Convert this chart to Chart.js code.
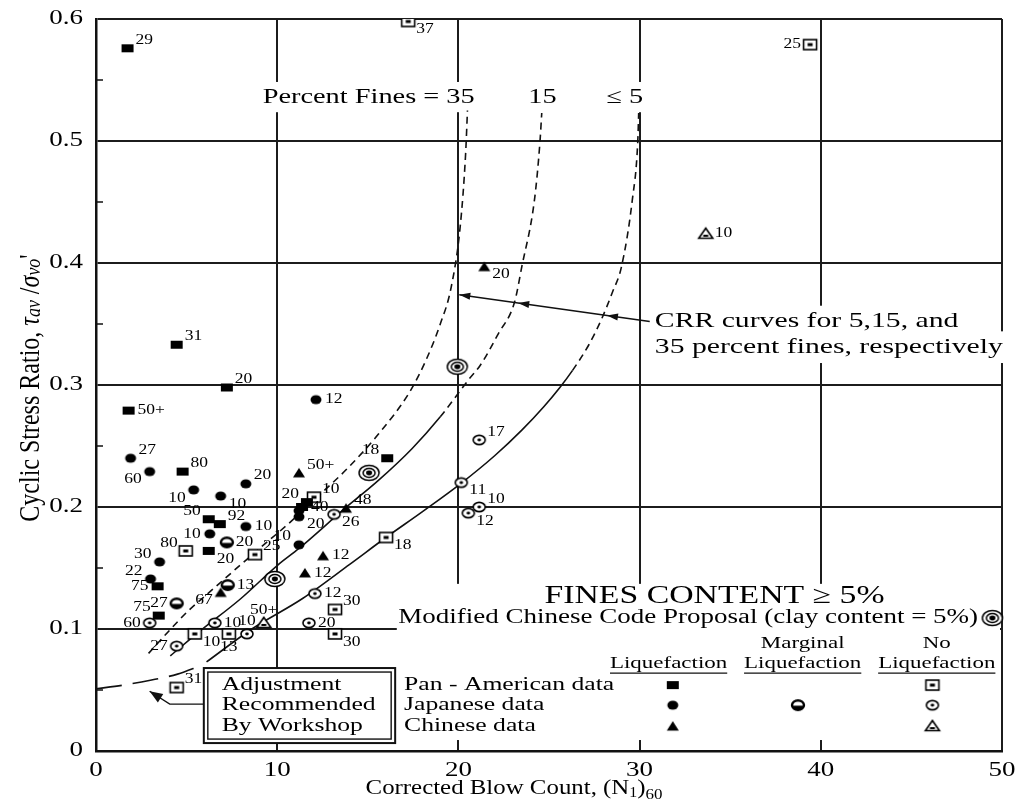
<!DOCTYPE html>
<html>
<head>
<meta charset="utf-8">
<script src="https://cdn.jsdelivr.net/npm/chart.js@4.4.1/dist/chart.umd.min.js"></script>
<style>
  html, body { margin: 0; padding: 0; background: #fff; }
  canvas { display: block; }
</style>
</head>
<body>
<canvas id="csrChart" width="1021" height="802"></canvas>
<script>
// axis ticks
const xTicks = [0, 10, 20, 30, 40, 50];
const xTickLabels = ['0', '10', '20', '30', '40', '50'];
const yTicks = [0, 0.1, 0.2, 0.3, 0.4, 0.5, 0.6];
const yTickLabels = ['0', '0.1', '0.2', '0.3', '0.4', '0.5', '0.6'];

// Pan-American data, liquefaction
const panLiqN = [1.74, 4.45, 7.22, 1.80, 4.78, 6.22, 6.83, 6.22, 3.40, 3.46, 16.07, 11.64, 11.37];
const panLiqCSR = [0.576, 0.333, 0.298, 0.279, 0.229, 0.190, 0.186, 0.164, 0.135, 0.111, 0.240, 0.204, 0.200];
const panLiqLabels = ['29', '31', '20', '50+', '80', '50', '92', '20', '75', '75', '18', '20', '40'];
const panLiqPos = ['ru', 'ru', 'ru', 'r', 'ru', 'lu', 'ru', 'rd', 'l', 'lu', 'lu', 'lu', 'r'];

// Pan-American data, no liquefaction
const panNoN = [17.23, 39.41, 4.95, 8.77, 16.01, 13.19, 13.19, 4.45, 12.03, 5.45, 7.33];
const panNoCSR = [0.598, 0.579, 0.164, 0.161, 0.175, 0.116, 0.096, 0.052, 0.208, 0.096, 0.096];
const panNoLabels = ['37', '25', '80', '25', '18', '30', '30', '31', '10', '10', '13'];
const panNoPos = ['rd', 'l', 'lu', 'ru', 'rd', 'ru', 'rd', 'ru', 'ru', 'rd', 'd'];

// Japanese data, liquefaction
const japLiqN = [12.14, 1.91, 2.96, 5.39, 6.88, 8.27, 8.27, 6.28, 3.51, 3.01, 11.20, 11.20, 11.20];
const japLiqCSR = [0.288, 0.240, 0.229, 0.214, 0.209, 0.219, 0.184, 0.178, 0.155, 0.141, 0.169, 0.197, 0.192];
const japLiqLabels = ['12', '27', '60', '10', '10', '20', '10', '10', '30', '22', '10', '', '20'];
const japLiqPos = ['r', 'ru', 'ld', 'ld', 'rd', 'ru', 'r', 'l', 'lu', 'lu', 'lu', 'r', 'rd'];

// Japanese data, marginal liquefaction
const japMargN = [7.22, 4.45, 7.27];
const japMargCSR = [0.171, 0.121, 0.136];
const japMargLabels = ['20', '27', '13'];
const japMargPos = ['r', 'l', 'r'];

// Japanese data, no liquefaction
const japNoN = [21.15, 20.16, 21.15, 20.55, 13.14, 12.08, 11.75, 2.96, 4.45, 6.56, 8.33];
const japNoCSR = [0.255, 0.220, 0.200, 0.195, 0.194, 0.129, 0.105, 0.105, 0.086, 0.105, 0.096];
const japNoLabels = ['17', '11', '10', '12', '26', '12', '20', '60', '27', '10', '10'];
const japNoPos = ['ru', 'rd', 'ru', 'rd', 'rd', 'r', 'r', 'l', 'l', 'r', 'u'];

// Chinese data, liquefaction
const chinLiqN = [21.43, 11.20, 13.80, 12.53, 11.53, 6.88];
const chinLiqCSR = [0.397, 0.228, 0.199, 0.160, 0.146, 0.130];
const chinLiqLabels = ['20', '50+', '48', '12', '12', '67'];
const chinLiqPos = ['rd', 'ru', 'ru', 'r', 'r', 'ld'];

// Chinese data, no liquefaction
const chinNoN = [33.65, 9.26];
const chinNoCSR = [0.424, 0.105];
const chinNoLabels = ['10', '50+'];
const chinNoPos = ['r', 'u'];

// modified Chinese code proposal (clay content = 5%)
const modChinN = [9.87, 15.07, 19.94];
const modChinCSR = [0.141, 0.228, 0.315];

// CRR curves
const fines35N = [2.9, 4.0, 5.1, 6.4, 7.7, 9.1, 10.6, 12.2, 13.9, 15.6, 17.3, 18.2, 19.0, 19.6, 20.1, 20.4, 20.5];
const fines35CSR = [0.080, 0.098, 0.115, 0.132, 0.149, 0.167, 0.186, 0.208, 0.232, 0.260, 0.294, 0.320, 0.350, 0.380, 0.430, 0.490, 0.525];
const fines15N = [4.1, 5.8, 8.0, 10.0, 11.2, 13.75, 15.6, 17.45, 19.0, 20.6, 21.2, 22.2, 23.1, 23.5, 24.2, 24.5, 24.6];
const fines15CSR = [0.078, 0.099, 0.125, 0.152, 0.166, 0.199, 0.222, 0.248, 0.274, 0.305, 0.316, 0.342, 0.368, 0.397, 0.452, 0.499, 0.523];
const fines5N = [6.1, 8.6, 11.4, 14.0, 16.0, 18.0, 20.2, 22.0, 23.5, 24.7, 25.6, 26.3, 27.2, 27.9, 28.5, 29.0, 29.6, 29.9, 29.95];
const fines5CSR = [0.073, 0.100, 0.125, 0.153, 0.175, 0.196, 0.220, 0.242, 0.263, 0.282, 0.298, 0.312, 0.333, 0.354, 0.376, 0.397, 0.452, 0.500, 0.523];
const adjustN = [0, 1.5, 3.0, 4.5, 5.8];
const adjustCSR = [0.051, 0.054, 0.058, 0.063, 0.070];

const legendRows = ['Pan - American data', 'Japanese data', 'Chinese data'];
const boxLines = ['Adjustment', 'Recommended', 'By Workshop'];

const SERIF = '"Liberation Serif", "Times New Roman", serif';
const SX = 1.35; // text is drawn a bit wide, like the printed figure

// ---------- marker glyphs ----------
function makeMarker(kind) {
  const c = document.createElement('canvas');
  c.width = 26; c.height = 20;
  const g = c.getContext('2d');
  g.translate(13, 10);
  g.fillStyle = '#000';
  g.strokeStyle = '#000';
  g.lineWidth = 1.6;
  const ell = (rx, ry) => { g.beginPath(); g.ellipse(0, 0, rx, ry, 0, 0, Math.PI * 2); };
  switch (kind) {
    case 'sqFill':
      g.fillRect(-6, -4, 12, 8);
      break;
    case 'sqOpen':
      g.fillStyle = '#fff'; g.fillRect(-6.5, -5, 13, 10);
      g.strokeRect(-6.5, -5, 13, 10);
      g.fillStyle = '#000'; g.fillRect(-2.5, -1.5, 5, 3);
      break;
    case 'cirFill':
      ell(5.5, 4.6); g.fill();
      break;
    case 'cirOpen':
      ell(6, 4.6); g.fillStyle = '#fff'; g.fill(); g.stroke();
      ell(1.8, 1.4); g.fillStyle = '#000'; g.fill();
      break;
    case 'cirMarg':
      g.lineWidth = 2.4;
      ell(6, 4.8); g.fillStyle = '#fff'; g.fill(); g.stroke();
      g.fillStyle = '#000';
      g.beginPath(); g.ellipse(0, 0, 6, 4.8, 0, 0.1, Math.PI - 0.1); g.fill();
      break;
    case 'triFill':
      g.beginPath(); g.moveTo(-6, 4.5); g.lineTo(6, 4.5); g.lineTo(0, -5); g.closePath(); g.fill();
      break;
    case 'triOpen':
      g.beginPath(); g.moveTo(-7, 4.5); g.lineTo(7, 4.5); g.lineTo(0, -5.5); g.closePath();
      g.fillStyle = '#fff'; g.fill(); g.stroke();
      g.fillStyle = '#000'; g.fillRect(-2.5, 1, 5, 2);
      break;
    case 'bull':
      g.lineWidth = 1.5;
      ell(10, 7.5); g.fillStyle = '#fff'; g.fill(); g.stroke();
      ell(6, 4.5); g.stroke();
      ell(3, 2.4); g.fillStyle = '#000'; g.fill();
      break;
  }
  return c;
}

const markers = {};
['sqFill', 'sqOpen', 'cirFill', 'cirOpen', 'cirMarg', 'triFill', 'triOpen', 'bull'].forEach(k => markers[k] = makeMarker(k));

const pointSeries = [
  { n: panLiqN, v: panLiqCSR, labels: panLiqLabels, pos: panLiqPos, marker: 'sqFill' },
  { n: panNoN, v: panNoCSR, labels: panNoLabels, pos: panNoPos, marker: 'sqOpen' },
  { n: japLiqN, v: japLiqCSR, labels: japLiqLabels, pos: japLiqPos, marker: 'cirFill' },
  { n: japMargN, v: japMargCSR, labels: japMargLabels, pos: japMargPos, marker: 'cirMarg' },
  { n: japNoN, v: japNoCSR, labels: japNoLabels, pos: japNoPos, marker: 'cirOpen' },
  { n: chinLiqN, v: chinLiqCSR, labels: chinLiqLabels, pos: chinLiqPos, marker: 'triFill' },
  { n: chinNoN, v: chinNoCSR, labels: chinNoLabels, pos: chinNoPos, marker: 'triOpen' },
  { n: modChinN, v: modChinCSR, labels: [], pos: [], marker: 'bull' }
];

const toXY = (n, v) => n.map((x, i) => ({ x: x, y: v[i] }));

function curve(n, v, dash, dashAbove) {
  const ds = {
    data: toXY(n, v),
    showLine: true,
    pointRadius: 0,
    borderColor: '#111',
    borderWidth: 1.6,
    cubicInterpolationMode: 'monotone',
    fill: false
  };
  if (dash) ds.borderDash = dash;
  if (dashAbove !== undefined) {
    // solid lower part, dashed where the curve is extrapolated
    ds.segment = { borderDash: ctx => ctx.p0.parsed.y >= dashAbove ? [7, 5] : undefined };
  }
  return ds;
}

const datasets = pointSeries.map(s => ({
  data: toXY(s.n, s.v),
  pointStyle: markers[s.marker],
  pointRadius: 6,
  showLine: false
}));
datasets.push(curve(fines35N, fines35CSR, [7, 5]));
datasets.push(curve(fines15N, fines15CSR, null, 0.27));
datasets.push(curve(fines5N, fines5CSR, null, 0.31));
datasets.push(curve(adjustN, adjustCSR, [26, 11]));

// ---------- text helpers ----------
function runs(ctx, parts, x, y, align, sx, sy) {
  let total = 0;
  parts.forEach(p => { ctx.font = p.font; p.w = ctx.measureText(p.t).width; total += p.w; });
  let cx = align === 'center' ? -total / 2 : align === 'right' ? -total : 0;
  ctx.save();
  ctx.translate(x, y);
  ctx.scale(sx, sy || 1);
  ctx.textBaseline = 'middle';
  ctx.textAlign = 'left';
  parts.forEach(p => { ctx.font = p.font; ctx.fillText(p.t, cx, p.dy || 0); cx += p.w; });
  ctx.restore();
  return total * sx;
}

function txt(ctx, s, x, y, size, align, sx, clear) {
  ctx.font = size + 'px ' + SERIF;
  const w = ctx.measureText(s).width * sx;
  const left = align === 'center' ? x - w / 2 : align === 'right' ? x - w : x;
  if (clear) {
    ctx.save();
    ctx.fillStyle = '#fff';
    ctx.fillRect(left - 4, y - size * 0.72, w + 8, size * 1.44);
    ctx.restore();
  }
  ctx.save();
  ctx.fillStyle = '#000';
  ctx.translate(left, y);
  ctx.scale(sx, 1);
  ctx.textBaseline = 'middle';
  ctx.textAlign = 'left';
  ctx.fillText(s, 0, 0);
  ctx.restore();
  return { left: left, w: w };
}

function arrowHead(ctx, x, y, ang, len, half) {
  ctx.save();
  ctx.translate(x, y);
  ctx.rotate(ang);
  ctx.beginPath();
  ctx.moveTo(0, 0);
  ctx.lineTo(-len, -half);
  ctx.lineTo(-len, half);
  ctx.closePath();
  ctx.fill();
  ctx.restore();
}

const labelOffsets = {
  r: [9, 0, 'left'], ru: [8, -8, 'left'], rd: [8, 8, 'left'],
  l: [-9, 0, 'right'], lu: [-8, -8, 'right'], ld: [-8, 8, 'right'],
  u: [0, -13, 'center'], d: [0, 13, 'center']
};

const annotate = {
  id: 'annotate',
  beforeDatasetsDraw(chart) {
    const ctx = chart.ctx, a = chart.chartArea;
    const X = v => chart.scales.x.getPixelForValue(v);
    const Y = v => chart.scales.y.getPixelForValue(v);
    ctx.save();

    // legend panel sits over the lower right of the grid
    ctx.fillStyle = '#fff';
    ctx.fillRect(X(16.6), Y(0.137), a.right - 2 - X(16.6), Y(0.009) - Y(0.137));

    // curve names across the top
    txt(ctx, 'Percent Fines = 35', X(20.9), Y(0.536), 21, 'right', SX, true);
    txt(ctx, '15', X(24.64), Y(0.536), 21, 'center', SX, true);
    txt(ctx, '\u2264 5', X(29.18), Y(0.536), 21, 'center', SX, true);

    // CRR note with arrows onto the three curves
    txt(ctx, 'CRR curves for 5,15, and', X(30.84), Y(0.352), 22, 'left', SX, true);
    txt(ctx, '35 percent fines, respectively', X(30.84), Y(0.331), 22, 'left', SX, true);
    const s = { n: 30.56, v: 0.352 }, t = { n: 20.05, v: 0.374 };
    const onLine = n => s.v + (n - s.n) * (t.v - s.v) / (t.n - s.n);
    ctx.strokeStyle = '#111';
    ctx.fillStyle = '#111';
    ctx.lineWidth = 1.4;
    ctx.beginPath();
    ctx.moveTo(X(s.n), Y(s.v));
    ctx.lineTo(X(t.n), Y(t.v));
    ctx.stroke();
    const ang = Math.atan2(Y(t.v) - Y(s.v), X(t.n) - X(s.n));
    [t.n, 23.3, 28.2].forEach(n => arrowHead(ctx, X(n), Y(onLine(n)), ang, 11, 3.5));

    // fines content legend
    txt(ctx, 'FINES CONTENT \u2265 5%', X(24.75), Y(0.127), 25, 'left', SX);
    txt(ctx, 'Modified Chinese Code Proposal (clay content = 5%)', X(16.68), Y(0.109), 20, 'left', SX);
    const bull = markers.bull;
    ctx.drawImage(bull, X(49.47) - bull.width / 2, Y(0.109) - bull.height / 2);

    const cols = [31.6, 39.0, 46.4];
    txt(ctx, 'Marginal', X(cols[1]), Y(0.088), 17, 'center', SX);
    txt(ctx, 'No', X(cols[2]), Y(0.088), 17, 'center', SX);
    ctx.lineWidth = 1.3;
    cols.forEach(c => {
      const m = txt(ctx, 'Liquefaction', X(c), Y(0.072), 17, 'center', SX);
      ctx.beginPath();
      ctx.moveTo(m.left, Y(0.072) + 10);
      ctx.lineTo(m.left + m.w, Y(0.072) + 10);
      ctx.stroke();
    });
    const rowV = [0.054, 0.0376, 0.0204];
    const grid = [['sqFill', null, 'sqOpen'], ['cirFill', 'cirMarg', 'cirOpen'], ['triFill', null, 'triOpen']];
    legendRows.forEach((r, i) => {
      txt(ctx, r, X(17.0), Y(rowV[i]), 19, 'left', SX);
      grid[i].forEach((k, j) => {
        if (!k) return;
        const m = markers[k];
        const mx = [31.83, 38.74, 46.16][j];
        ctx.drawImage(m, X(mx) - m.width / 2, Y(rowV[i]) - m.height / 2);
      });
    });

    // workshop adjustment box
    const bx0 = X(5.95), bx1 = X(16.51), by0 = Y(0.068), by1 = Y(0.0065);
    ctx.fillStyle = '#fff';
    ctx.fillRect(bx0, by0, bx1 - bx0, by1 - by0);
    ctx.strokeStyle = '#111';
    ctx.lineWidth = 2;
    ctx.strokeRect(bx0, by0, bx1 - bx0, by1 - by0);
    ctx.lineWidth = 1.4;
    ctx.strokeRect(bx0 + 4, by0 + 4, bx1 - bx0 - 8, by1 - by0 - 8);
    boxLines.forEach((l, i) => txt(ctx, l, X(6.94), Y(rowV[i]), 19, 'left', SX));

    // pointer from the box to the adjusted curve
    ctx.lineWidth = 1.4;
    ctx.beginPath();
    ctx.moveTo(bx0, Y(0.0384));
    ctx.lineTo(X(4.07), Y(0.0384));
    ctx.lineTo(X(2.96), Y(0.049));
    ctx.stroke();
    ctx.fillStyle = '#111';
    arrowHead(ctx, X(2.96), Y(0.049), Math.atan2(Y(0.049) - Y(0.0384), X(2.96) - X(4.07)), 13, 5);
    ctx.restore();
  },
  afterDatasetsDraw(chart) {
    const ctx = chart.ctx;
    const X = v => chart.scales.x.getPixelForValue(v);
    const Y = v => chart.scales.y.getPixelForValue(v);
    pointSeries.forEach(s => {
      s.labels.forEach((lab, i) => {
        if (!lab) return;
        const o = labelOffsets[s.pos[i]];
        txt(ctx, lab, X(s.n[i]) + o[0], Y(s.v[i]) + o[1], 14, o[2], 1.25);
      });
    });
  },
  afterDraw(chart) {
    const ctx = chart.ctx, a = chart.chartArea;
    const X = v => chart.scales.x.getPixelForValue(v);
    const Y = v => chart.scales.y.getPixelForValue(v);
    ctx.save();
    // minor ticks on the left edge
    ctx.strokeStyle = '#111';
    ctx.lineWidth = 1.5;
    for (let i = 0; i < yTicks.length - 1; i++) {
      const y = Y((yTicks[i] + yTicks[i + 1]) / 2);
      ctx.beginPath();
      ctx.moveTo(a.left, y);
      ctx.lineTo(a.left + 7, y);
      ctx.stroke();
    }
    yTicks.forEach((v, i) => txt(ctx, yTickLabels[i], a.left - 13, Y(v), 20, 'right', SX));
    xTicks.forEach((v, i) => txt(ctx, xTickLabels[i], X(v), a.bottom + 20, 20, 'center', SX));

    // axis titles
    const f = (sz, it) => (it ? 'italic ' : '') + sz + 'px ' + SERIF;
    ctx.fillStyle = '#000';
    runs(ctx, [
      { t: 'Corrected Blow Count, (N', font: f(22) },
      { t: '1', font: f(14), dy: 5 },
      { t: ')', font: f(22) },
      { t: '60', font: f(15), dy: 7 }
    ], 514, a.bottom + 37, 'center', 1.13);

    ctx.translate(31, 388);
    ctx.rotate(-Math.PI / 2);
    runs(ctx, [
      { t: 'Cyclic Stress Ratio, ', font: f(24) },
      { t: '\u03C4', font: f(24, true) },
      { t: 'av', font: f(18, true), dy: 3 },
      { t: ' /', font: f(24) },
      { t: '\u03C3', font: f(24, true) },
      { t: 'vo', font: f(18, true), dy: 3 },
      { t: '\'', font: f(24) }
    ], 0, 0, 'center', 1, 1.2);
    ctx.restore();
  }
};

new Chart(document.getElementById('csrChart'), {
  type: 'scatter',
  data: { datasets: datasets },
  options: {
    responsive: false,
    animation: false,
    devicePixelRatio: 1,
    layout: { padding: { left: 96, right: 19, top: 19, bottom: 51 } },
    plugins: { legend: { display: false }, tooltip: { enabled: false } },
    scales: {
      x: {
        type: 'linear', min: 0, max: 50,
        ticks: { display: false, stepSize: 10 },
        grid: { color: '#1c1c1c', lineWidth: 2, drawTicks: false },
        border: { color: '#111', width: 2.5 }
      },
      y: {
        type: 'linear', min: 0, max: 0.6,
        ticks: { display: false, stepSize: 0.1 },
        grid: { color: '#1c1c1c', lineWidth: 2, drawTicks: false },
        border: { color: '#111', width: 2.5 }
      }
    }
  },
  plugins: [annotate]
});
</script>
</body>
</html>
